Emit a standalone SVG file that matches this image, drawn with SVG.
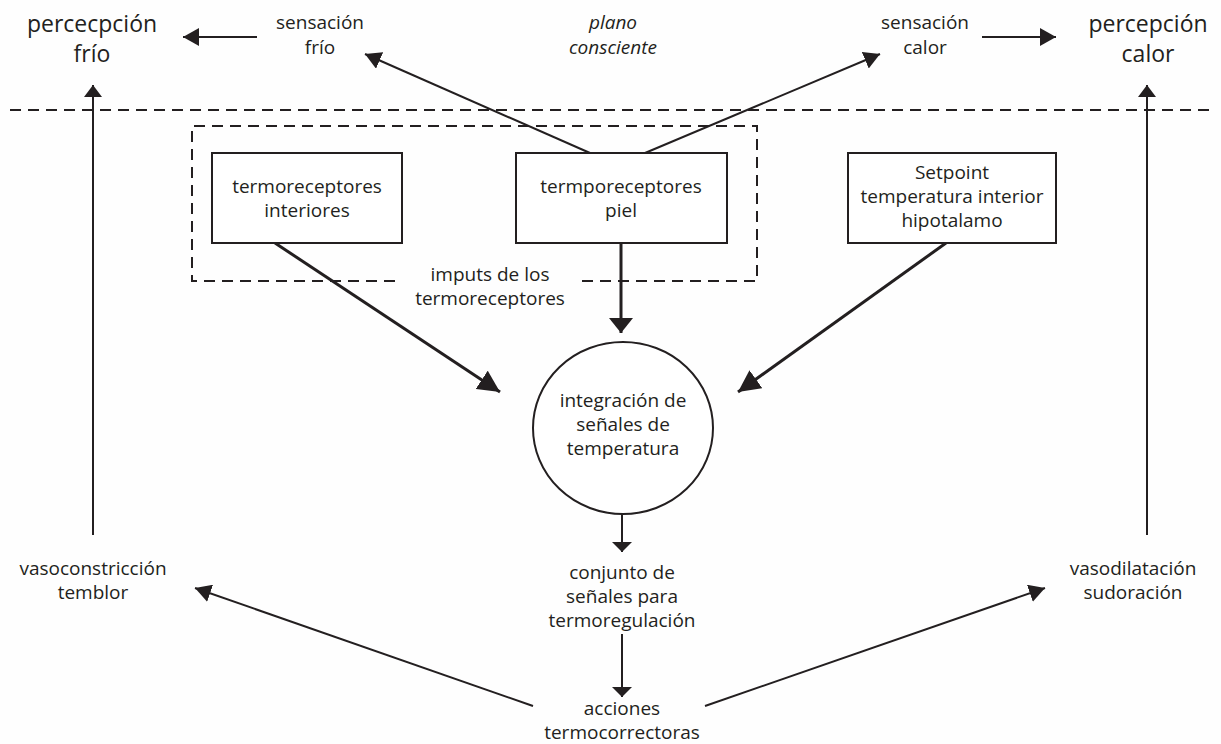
<svg xmlns="http://www.w3.org/2000/svg" width="1221" height="744" viewBox="0 0 1221 744">
  <style>
    text { font-family: "Open Sans", "Liberation Sans", sans-serif; fill: #231f20; text-anchor: middle; }
    .lbl { font-size: 19px; }
    .big { font-size: 23px; }
    .it { font-style: italic; }
    .box { fill: #ffffff; stroke: #231f20; stroke-width: 2; }
    .ln { fill: none; stroke: #231f20; stroke-width: 2; }
    .thick { stroke-width: 3; }
    .dash { fill: none; stroke: #231f20; stroke-width: 2; stroke-dasharray: 11 7; }
  </style>
  <defs>
    <marker id="head" markerUnits="userSpaceOnUse" markerWidth="16" markerHeight="18" refX="16" refY="9" orient="auto">
      <path d="M0,0 L16,9 L0,18 z" fill="#231f20"/>
    </marker>
    <marker id="headUp" markerUnits="userSpaceOnUse" markerWidth="12" markerHeight="18" refX="12" refY="9" orient="auto">
      <path d="M0,0 L12,9 L0,18 z" fill="#231f20"/>
    </marker>
    <marker id="headBig" markerUnits="userSpaceOnUse" markerWidth="22" markerHeight="22" refX="22" refY="11" orient="auto">
      <path d="M0,0 L22,11 L0,22 z" fill="#231f20"/>
    </marker>
    <marker id="headWide" markerUnits="userSpaceOnUse" markerWidth="15" markerHeight="24" refX="15" refY="12" orient="auto">
      <path d="M0,0 L15,12 L0,24 z" fill="#231f20"/>
    </marker>
    <marker id="headSmall" markerUnits="userSpaceOnUse" markerWidth="10" markerHeight="20" refX="10" refY="10" orient="auto">
      <path d="M0,0 L10,10 L0,20 z" fill="#231f20"/>
    </marker>
  </defs>

  <rect width="1221" height="744" fill="#fefefe"/>

  <!-- conscious plane divider -->
  <line id="plane-divider" class="dash" x1="10" y1="110" x2="1215" y2="110"/>

  <!-- thermoreceptor input group -->
  <g id="input-group">
    <path class="dash" d="M395,281 L192,281 L192,126 L757,126 L757,281 L580,281"/>
    <text class="lbl" x="490" y="281">imputs de los</text>
    <text class="lbl" x="490" y="305">termoreceptores</text>
  </g>

  <g id="connectors">
    <line class="ln" x1="257" y1="37" x2="183" y2="37" marker-end="url(#head)"/>
    <line class="ln" x1="982" y1="37" x2="1056" y2="37" marker-end="url(#head)"/>
    <line class="ln" x1="93" y1="535" x2="93" y2="85" marker-end="url(#headUp)"/>
    <line class="ln" x1="1147" y1="535" x2="1147" y2="85" marker-end="url(#headUp)"/>
    <line class="ln" x1="590" y1="153" x2="365" y2="54" marker-end="url(#head)"/>
    <line class="ln" x1="645" y1="153" x2="880" y2="54" marker-end="url(#head)"/>
    <line class="ln thick" x1="275" y1="243" x2="500" y2="392" marker-end="url(#headBig)"/>
    <line class="ln thick" x1="621" y1="243" x2="621" y2="333" marker-end="url(#headWide)"/>
    <line class="ln thick" x1="946" y1="243" x2="738" y2="392" marker-end="url(#headBig)"/>
    <line class="ln" x1="622" y1="514" x2="622" y2="552" marker-end="url(#headSmall)"/>
    <line class="ln" x1="622" y1="634" x2="622" y2="697" marker-end="url(#headSmall)"/>
    <line class="ln" x1="533" y1="706" x2="195" y2="588" marker-end="url(#head)"/>
    <line class="ln" x1="705" y1="706" x2="1045" y2="588" marker-end="url(#head)"/>
  </g>

  <g id="percepcion-frio">
    <text class="big" x="92" y="32">percecpción</text>
    <text class="big" x="92" y="62">frío</text>
  </g>
  <g id="sensacion-frio">
    <text class="lbl" x="320" y="29">sensación</text>
    <text class="lbl" x="320" y="54">frío</text>
  </g>
  <g id="plano-consciente">
    <text class="lbl it" x="613" y="29">plano</text>
    <text class="lbl it" x="613" y="54">consciente</text>
  </g>
  <g id="sensacion-calor">
    <text class="lbl" x="925" y="29">sensación</text>
    <text class="lbl" x="925" y="54">calor</text>
  </g>
  <g id="percepcion-calor">
    <text class="big" x="1148" y="32">percepción</text>
    <text class="big" x="1148" y="62">calor</text>
  </g>

  <g id="termoreceptores-interiores">
    <rect class="box" x="212" y="153" width="190" height="90"/>
    <text class="lbl" x="307" y="193">termoreceptores</text>
    <text class="lbl" x="307" y="217">interiores</text>
  </g>
  <g id="termoreceptores-piel">
    <rect class="box" x="516" y="153" width="211" height="90"/>
    <text class="lbl" x="621" y="193">termporeceptores</text>
    <text class="lbl" x="621" y="217">piel</text>
  </g>
  <g id="setpoint">
    <rect class="box" x="848" y="153" width="208" height="90"/>
    <text class="lbl" x="952" y="179">Setpoint</text>
    <text class="lbl" x="952" y="203">temperatura interior</text>
    <text class="lbl" x="952" y="227">hipotalamo</text>
  </g>

  <g id="integracion">
    <ellipse class="box" cx="623" cy="428" rx="90" ry="86"/>
    <text class="lbl" x="623" y="407">integración de</text>
    <text class="lbl" x="623" y="431">señales de</text>
    <text class="lbl" x="623" y="455">temperatura</text>
  </g>

  <g id="conjunto-senales">
    <text class="lbl" x="622" y="579">conjunto de</text>
    <text class="lbl" x="622" y="603">señales para</text>
    <text class="lbl" x="622" y="627">termoregulación</text>
  </g>

  <g id="acciones">
    <text class="lbl" x="622" y="715">acciones</text>
    <text class="lbl" x="622" y="739">termocorrectoras</text>
  </g>

  <g id="vasoconstriccion">
    <text class="lbl" x="93" y="575">vasoconstricción</text>
    <text class="lbl" x="93" y="599">temblor</text>
  </g>
  <g id="vasodilatacion">
    <text class="lbl" x="1133" y="575">vasodilatación</text>
    <text class="lbl" x="1133" y="599">sudoración</text>
  </g>
</svg>
